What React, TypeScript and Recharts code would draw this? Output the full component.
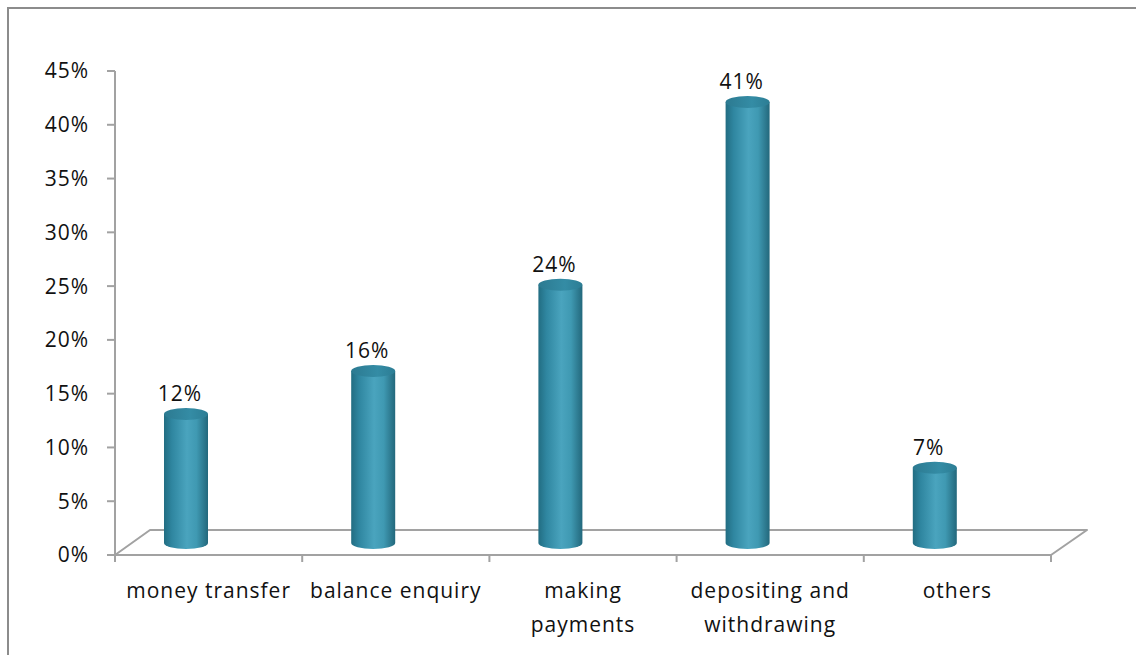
import { BarChart, Bar, XAxis, YAxis, LabelList, usePlotArea } from "recharts";

// Share of mobile banking use by purpose, drawn as 3D-style cylinders on a floor.
const CATEGORIES = [
  "money transfer",
  "balance enquiry",
  "making\npayments",
  "depositing and\nwithdrawing",
  "others",
];
const SHARES = [12, 16, 24, 41, 7];
const Y_TICKS = [0, 5, 10, 15, 20, 25, 30, 35, 40, 45];

const data = CATEGORIES.map((category, i) => ({ category, share: SHARES[i] }));

const WIDTH = 1136;
const HEIGHT = 655;
const FONT = "'Open Sans', 'DejaVu Sans', sans-serif";
const FONT_SIZE = 21;
const LINE = "#a2a2a2";

// floor depth (back edge offset) and cylinder geometry
const DEPTH_X = 36;
const DEPTH_Y = 25;
// cylinders stand mid-floor: nudged back (up) from the front edge, a bit left of the label centres
const BAR_SHIFT_X = -23;
const BAR_SHIFT_Y = -12;
const LABEL_SHIFT = -6;
const CAP_RY = 6;

function Floor() {
  const plot = usePlotArea();
  if (!plot) return null;
  const { x, y, width, height } = plot;
  const bottom = y + height;
  const step = width / CATEGORIES.length;
  const pts = [
    [x, bottom],
    [x + DEPTH_X - 1, bottom - DEPTH_Y],
    [x + width + DEPTH_X, bottom - DEPTH_Y],
    [x + width, bottom],
  ]
    .map((p) => p.join(","))
    .join(" ");
  return (
    <g>
      <polyline points={pts} fill="none" stroke={LINE} strokeWidth={2} strokeLinejoin="round" />
      {Array.from({ length: CATEGORIES.length + 1 }, (_, i) => (
        <line
          key={i}
          x1={x + i * step}
          x2={x + i * step}
          y1={bottom}
          y2={bottom + 7}
          stroke={LINE}
          strokeWidth={2}
        />
      ))}
    </g>
  );
}

function Cylinder(props: any) {
  const { x, y, width, height } = props;
  if (!height || height <= 0) return null;
  const left = x + BAR_SHIFT_X;
  const top = y + BAR_SHIFT_Y;
  const rx = width / 2;
  const base = top + height;
  const body = `M${left},${top} L${left},${base} A${rx},${CAP_RY} 0 0 0 ${left + width},${base} L${left + width},${top} Z`;
  return (
    <g>
      <path d={body} fill="url(#cylBody)" />
      <ellipse cx={left + rx} cy={top} rx={rx} ry={CAP_RY} fill="url(#cylTop)" />
    </g>
  );
}

function ShareLabel(props: any) {
  const { x, y, width, value } = props;
  return (
    <text
      x={x + BAR_SHIFT_X + width / 2 + LABEL_SHIFT}
      y={y + BAR_SHIFT_Y - 13}
      textAnchor="middle"
      fontFamily={FONT}
      fontSize={FONT_SIZE}
      letterSpacing={1}
      fill="#111"
    >
      {value}%
    </text>
  );
}

function CategoryTick({ x, y, payload }: any) {
  const lines = String(payload.value).split("\n");
  return (
    <text
      x={x}
      y={y + 43}
      textAnchor="middle"
      fontFamily={FONT}
      fontSize={FONT_SIZE}
      letterSpacing={1}
      fill="#111"
    >
      {lines.map((line, i) => (
        <tspan key={i} x={x} dy={i === 0 ? 0 : 34}>
          {line}
        </tspan>
      ))}
    </text>
  );
}

export default function App() {
  return (
    <div
      style={{
        position: "absolute",
        left: 0,
        top: 0,
        width: WIDTH,
        height: HEIGHT,
        overflow: "hidden",
        background: "#fff",
      }}
    >
      <div
        style={{
          position: "absolute",
          left: 7,
          top: 7,
          width: WIDTH + 20,
          height: HEIGHT + 20,
          borderTop: "2px solid #8c8c8c",
          borderLeft: "2px solid #8c8c8c",
        }}
      />
      <div style={{ position: "absolute", left: 0, top: 0 }}>
        <BarChart
          width={WIDTH}
          height={HEIGHT}
          data={data}
          margin={{ top: 71, right: 85, bottom: 0, left: 0 }}
          barSize={44}
        >
          <defs>
            <linearGradient id="cylBody" x1="0" y1="0" x2="1" y2="0">
              <stop offset="0%" stopColor="#226d82" />
              <stop offset="18%" stopColor="#2f86a0" />
              <stop offset="52%" stopColor="#4aa4be" />
              <stop offset="74%" stopColor="#3f99b2" />
              <stop offset="100%" stopColor="#23687c" />
            </linearGradient>
            <linearGradient id="cylTop" x1="0" y1="0" x2="1" y2="0">
              <stop offset="0%" stopColor="#2c7a91" />
              <stop offset="60%" stopColor="#348ca5" />
              <stop offset="100%" stopColor="#2c7d94" />
            </linearGradient>
          </defs>
          <Floor />
          <XAxis
            dataKey="category"
            height={100}
            interval={0}
            tickLine={false}
            tickSize={0}
            tickMargin={0}
            axisLine={{ stroke: LINE, strokeWidth: 2 }}
            tick={<CategoryTick />}
          />
          <YAxis
            width={115}
            type="number"
            domain={[0, 45]}
            ticks={Y_TICKS}
            allowDataOverflow
            tickFormatter={(v: number) => `${v}%`}
            tickSize={8}
            tickMargin={18}
            axisLine={{ stroke: LINE, strokeWidth: 2 }}
            tickLine={{ stroke: LINE, strokeWidth: 2 }}
            tick={{ fontFamily: FONT, fontSize: FONT_SIZE, fill: "#111", letterSpacing: 1 }}
          />
          <Bar dataKey="share" shape={<Cylinder />} isAnimationActive={false}>
            <LabelList dataKey="share" content={<ShareLabel />} />
          </Bar>
        </BarChart>
      </div>
    </div>
  );
}
